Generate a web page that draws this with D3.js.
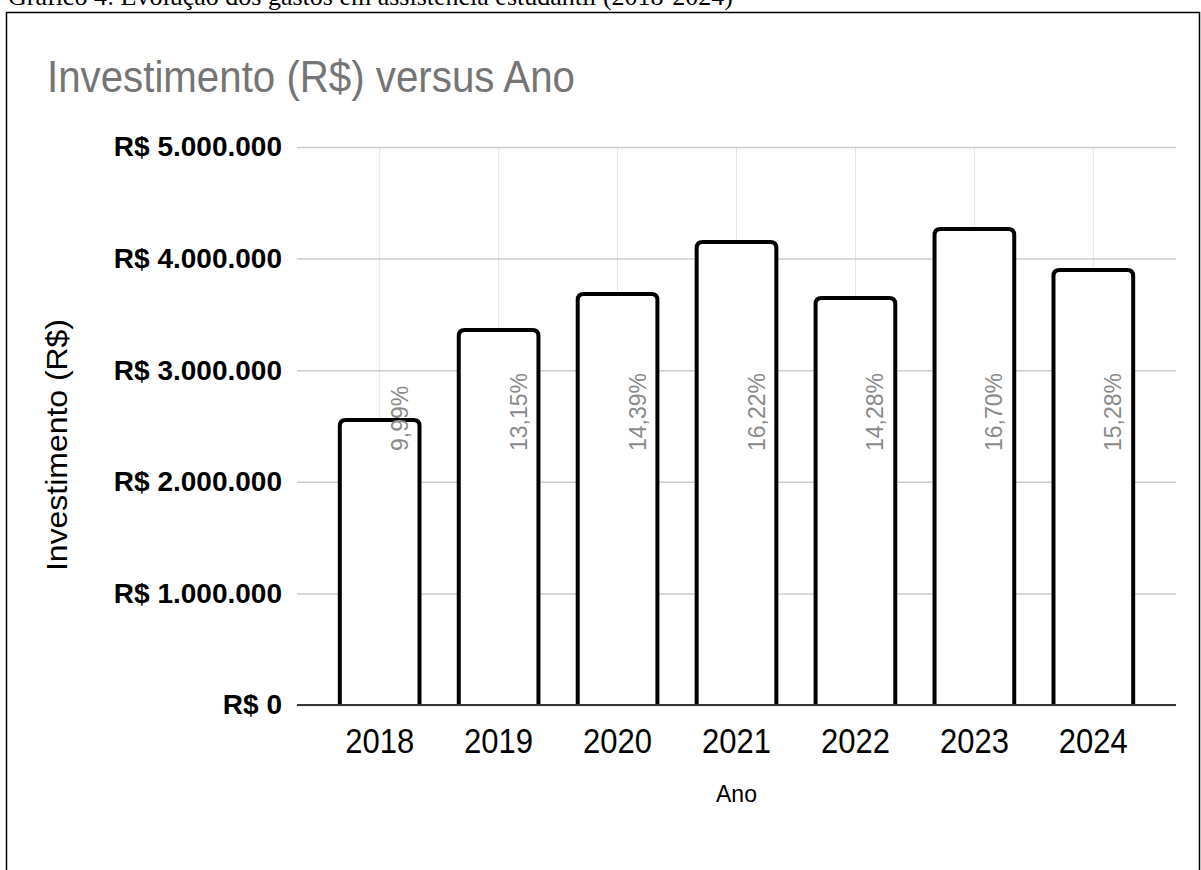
<!DOCTYPE html>
<html>
<head>
<meta charset="utf-8">
<script src="https://cdn.jsdelivr.net/npm/d3@7"></script>
<style>
  html, body { margin: 0; padding: 0; background: #fff; }
  svg { display: block; }
</style>
</head>
<body>
<svg width="1201" height="870"></svg>
<script>
// dados
var anos = ["2018", "2019", "2020", "2021", "2022", "2023", "2024"];
var investimento = [2554000, 3360000, 3683000, 4149000, 3647000, 4265000, 3898000];
var percentuais = ["9,99%", "13,15%", "14,39%", "16,22%", "14,28%", "16,70%", "15,28%"];
var yTicks = [0, 1000000, 2000000, 3000000, 4000000, 5000000];

var svg = d3.select("svg"),
    width = +svg.attr("width"),
    height = +svg.attr("height");

var plot = { left: 297, right: 1176, top: 147, bottom: 705 };

var ptBR = d3.formatLocale({ decimal: ",", thousands: ".", grouping: [3], currency: ["R$ ", ""] });
var money = ptBR.format("$,.0f");

var x = d3.scaleBand()
    .domain(anos)
    .range([plot.left, plot.right])
    .paddingInner(0.33)
    .paddingOuter(0.36);

var y = d3.scaleLinear()
    .domain([0, 5000000])
    .range([plot.bottom, plot.top]);

// legenda cortada no topo (texto do documento)
svg.append("text")
    .attr("x", 8)
    .attr("y", 5)
    .style("font", "26px 'Liberation Serif', serif")
    .attr("fill", "#000")
    .text("Gráfico 4: Evolução dos gastos em assistência estudantil (2018-2024)");

// moldura
svg.append("rect")
    .attr("x", 6.5)
    .attr("y", 12.5)
    .attr("width", 1193)
    .attr("height", 900)
    .attr("fill", "#fff")
    .attr("stroke", "#000")
    .attr("stroke-width", 1.5);

// título
svg.append("text")
    .attr("x", 47)
    .attr("y", 92)
    .attr("fill", "#757575")
    .attr("textLength", 528)
    .attr("lengthAdjust", "spacingAndGlyphs")
    .style("font", "44px 'Liberation Sans', Arial, sans-serif")
    .text("Investimento (R$) versus Ano");

// grade vertical
svg.append("g")
    .selectAll("line")
    .data(anos)
    .join("line")
    .attr("x1", function (d) { return x(d) + x.bandwidth() / 2; })
    .attr("x2", function (d) { return x(d) + x.bandwidth() / 2; })
    .attr("y1", y(5000000))
    .attr("y2", y(0))
    .attr("stroke", "#e4e4e4")
    .attr("stroke-width", 1);

// eixo y com linhas de grade
var yAxis = svg.append("g")
    .attr("transform", "translate(" + plot.left + ",0)")
    .call(d3.axisLeft(y)
        .tickValues(yTicks)
        .tickFormat(money)
        .tickSize(-(plot.right - plot.left))
        .tickPadding(15));
yAxis.select(".domain").remove();
yAxis.selectAll(".tick line")
    .attr("stroke", "#cccccc")
    .attr("stroke-width", 1.5);
yAxis.selectAll(".tick text")
    .attr("fill", "#000")
    .style("font", "bold 28px 'Liberation Sans', Arial, sans-serif");

// barras: topo arredondado, base sobre o eixo
var r = 6;
function barPath(d, i) {
    var x0 = x(anos[i]), x1 = x0 + x.bandwidth(),
        y0 = y(0), y1 = y(d);
    return "M" + x0 + "," + y0 +
        "V" + (y1 + r) +
        "Q" + x0 + "," + y1 + " " + (x0 + r) + "," + y1 +
        "H" + (x1 - r) +
        "Q" + x1 + "," + y1 + " " + x1 + "," + (y1 + r) +
        "V" + y0;
}

svg.append("g")
    .selectAll("path")
    .data(investimento)
    .join("path")
    .attr("d", barPath)
    .attr("fill", "#fff")
    .attr("stroke", "#000")
    .attr("stroke-width", 4)
    .attr("stroke-linejoin", "round");

// rótulos de percentual (girados)
var labelBase = 451;
svg.append("g")
    .selectAll("text")
    .data(percentuais)
    .join("text")
    .attr("transform", function (d, i) {
        return "translate(" + (x(anos[i]) + x.bandwidth() / 2 + 28) + "," + labelBase + ") rotate(-90)";
    })
    .attr("text-anchor", "start")
    .attr("fill", "#8a8a8a")
    .style("font", "23px 'Liberation Sans', Arial, sans-serif")
    .text(function (d) { return d; });

// eixo x
var xAxis = svg.append("g")
    .attr("transform", "translate(0," + plot.bottom + ")")
    .call(d3.axisBottom(x).tickSize(0).tickPadding(12));
xAxis.select(".domain").remove();
xAxis.selectAll(".tick text")
    .attr("fill", "#000")
    .attr("dy", null)
    .attr("y", 48)
    .attr("textLength", 69)
    .attr("lengthAdjust", "spacingAndGlyphs")
    .style("font", "35px 'Liberation Sans', Arial, sans-serif");

svg.append("line")
    .attr("x1", plot.left)
    .attr("x2", plot.right)
    .attr("y1", y(0))
    .attr("y2", y(0))
    .attr("stroke", "#333")
    .attr("stroke-width", 2);

// títulos dos eixos
svg.append("text")
    .attr("x", (plot.left + plot.right) / 2)
    .attr("y", 802)
    .attr("text-anchor", "middle")
    .attr("fill", "#000")
    .style("font", "23px 'Liberation Sans', Arial, sans-serif")
    .text("Ano");

svg.append("text")
    .attr("transform", "translate(67,445) rotate(-90)")
    .attr("text-anchor", "middle")
    .attr("fill", "#000")
    .attr("textLength", 252)
    .attr("lengthAdjust", "spacingAndGlyphs")
    .style("font", "29px 'Liberation Sans', Arial, sans-serif")
    .text("Investimento (R$)");
</script>
</body>
</html>
